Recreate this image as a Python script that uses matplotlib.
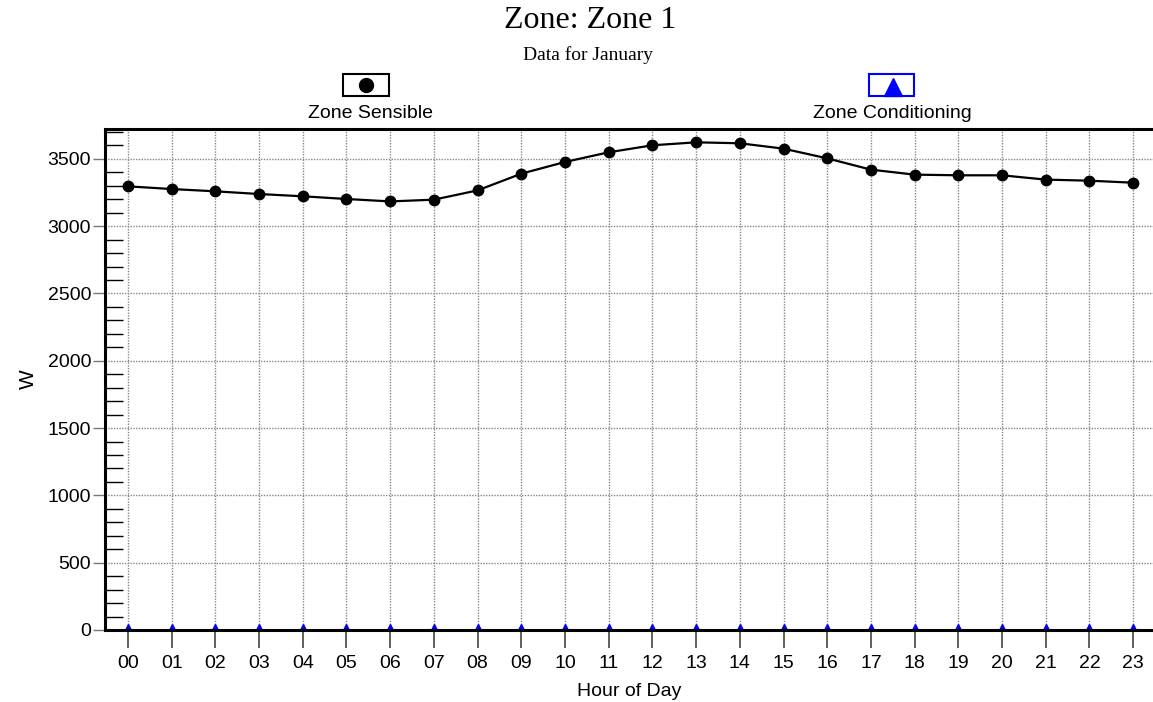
import matplotlib
matplotlib.use("Agg")
import matplotlib.pyplot as plt
import matplotlib.patches as mpatches
from matplotlib.ticker import MultipleLocator
import numpy as np

# data
hours = ["00", "01", "02", "03", "04", "05", "06", "07", "08", "09", "10", "11",
         "12", "13", "14", "15", "16", "17", "18", "19", "20", "21", "22", "23"]
zone_sensible = [3296, 3276, 3259, 3239, 3222, 3202, 3184, 3197, 3266, 3390, 3477, 3549,
                 3601, 3623, 3616, 3576, 3504, 3420, 3383, 3378, 3378, 3346, 3338, 3323]
zone_conditioning = [0] * 24
y_ticks = [0, 500, 1000, 1500, 2000, 2500, 3000, 3500]

sans = "Liberation Sans"
serif = "Liberation Serif"

fig = plt.figure(figsize=(11.53, 7.02), dpi=100)
ax = fig.add_axes([105 / 1153, 1 - 630 / 702, 1 - 105 / 1153, (630 - 129) / 702])

x = np.arange(len(hours))
ax.plot(x, zone_conditioning, color="blue", marker="^", markersize=8, lw=1.2, zorder=2)
ax.plot(x, zone_sensible, color="black", marker="o", markersize=7.5, lw=1.6, zorder=3)

ax.set_xlim(-0.526, 23.455)
ax.set_ylim(0, 3722)
ax.set_xticks(x)
ax.set_xticklabels(hours, fontfamily=sans, fontsize=14)
ax.set_yticks(y_ticks)
ax.set_yticklabels([str(v) for v in y_ticks], fontfamily=sans, fontsize=14)
ax.yaxis.set_minor_locator(MultipleLocator(100))

ax.tick_params(axis="x", which="major", direction="out", length=13, width=1.2,
               color="#444444", pad=5)
ax.tick_params(axis="y", which="major", direction="out", length=9, width=1,
               color="#777777", pad=1)
ax.tick_params(axis="y", which="minor", direction="in", length=13, width=1,
               color="black")

ax.grid(True, which="major", color="#888888", linestyle=(0, (1, 1)), linewidth=1)

for side in ["left", "top", "bottom"]:
    ax.spines[side].set_linewidth(2.2)
    ax.spines[side].set_color("black")
    ax.spines[side].set_zorder(4)
ax.spines["right"].set_visible(False)

ax.set_xlabel("Hour of Day", fontfamily=sans, fontsize=14, labelpad=8)
ax.set_ylabel("W", fontfamily=sans, fontsize=15)
ax.yaxis.set_label_coords((38 - 105) / 1048, 0.5)

fig.text(590 / 1153, 1 - 21 / 702, "Zone: Zone 1", ha="center", va="center",
         fontfamily=serif, fontsize=23)
fig.text(588 / 1153, 1 - 55 / 702, "Data for January", ha="center", va="center",
         fontfamily=serif, fontsize=14)

# legend drawn in pixel space overlay
lg = fig.add_axes([0, 0, 1, 1], facecolor="none")
lg.set_xlim(0, 1153)
lg.set_ylim(702, 0)
lg.axis("off")

lg.add_patch(mpatches.Rectangle((343, 74), 46, 22, fill=False, edgecolor="black", lw=1.5))
lg.plot([366], [85], marker="o", color="black", markersize=10)
lg.text(371, 113, "Zone Sensible", ha="center", va="center", fontfamily=sans, fontsize=14)

lg.add_patch(mpatches.Rectangle((869, 74), 45, 22, fill=False, edgecolor="blue", lw=1.5))
lg.plot([893], [87], marker="^", color="blue", markersize=13)
lg.text(892, 113, "Zone Conditioning", ha="center", va="center", fontfamily=sans, fontsize=14)

fig.savefig("out.png", dpi=100)
